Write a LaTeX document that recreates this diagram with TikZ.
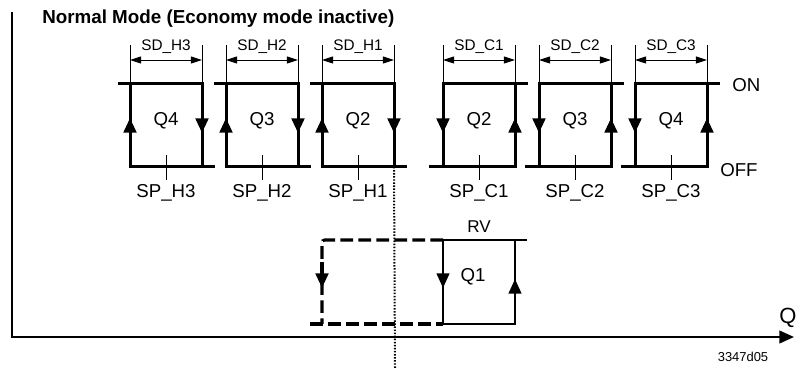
\documentclass[tikz,border=0pt]{standalone}
\usepackage{fontspec}
\setmainfont{Liberation Sans}
\usetikzlibrary{arrows.meta,calc}

\begin{document}
\begin{tikzpicture}[x=.75pt,y=-.75pt,
    loopline/.style={line width=2.25pt},
    rvline/.style={line width=1.7pt},
    dimline/.style={line width=.7pt},
    dimarrow/.style={line width=.7pt,
      {Triangle[length=8.3pt,width=5.2pt]}-{Triangle[length=8.3pt,width=5.2pt]}},
    flowtip/.style={-{Triangle[length=11pt,width=9.5pt]}},
    lbl/.style={font=\fontsize{14}{16}\selectfont,inner sep=0pt,anchor=base},
    small/.style={font=\fontsize{11.5}{13}\selectfont,inner sep=0pt,anchor=base}]
  \useasboundingbox (0,0) rectangle (800,370);

  % Axes.
  \coordinate (ytop) at (12,12);
  \coordinate (xend) at (794,337);
  \draw[line width=1.6pt,-{Triangle[length=11pt,width=9.5pt]}] (ytop) |- (xend);
  \node[font=\fontsize{16.5}{18}\selectfont,inner sep=0pt,anchor=base]
    (qaxis) at (788,324) {Q};
  \node[font=\fontsize{9.7}{11}\selectfont,inner sep=0pt,anchor=base]
    (ref) at (743,362) {3347d05};
  \node[font=\bfseries\fontsize{14.1}{16}\selectfont,inner sep=0pt,
    anchor=base west] (title) at (42,24) {Normal Mode (Economy mode inactive)};

  % Heating stages.
  \foreach \L/\q/\n in {130/4/3,226/3/2,322/2/1}{
    \coordinate (h\n tl) at (\L,84);
    \coordinate (h\n tr) at (\L+72,84);
    \coordinate (h\n bl) at (\L,167);
    \coordinate (h\n br) at (\L+72,167);
    \draw[loopline] ($(h\n tl)+(-12,0)$) -- (h\n tr) -- (h\n br);
    \draw[loopline] (h\n tl) -- (h\n bl) -- ($(h\n br)+(13,0)$);
    \draw[loopline,flowtip] (\L,145) -- (\L,118);
    \draw[loopline,flowtip] (\L+72,106) -- (\L+72,133);
    \draw[dimline] (\L,45) -- (h\n tl) (\L+72,45) -- (h\n tr);
    \draw[dimarrow] (\L,60) -- (\L+72,60);
    \draw[dimline] (\L+36,155) -- (\L+36,180);
    \node[lbl] (hq\n) at (\L+36,126) {Q\q};
    \node[lbl] (hsp\n) at (\L+36,198) {SP\_H\n};
    \node[small] (hsd\n) at (\L+36,51) {SD\_H\n};
  }

  % Cooling stages.
  \foreach \L/\q/\n in {443/2/1,539/3/2,635/4/3}{
    \coordinate (c\n tl) at (\L,84);
    \coordinate (c\n tr) at (\L+72,84);
    \coordinate (c\n bl) at (\L,167);
    \coordinate (c\n br) at (\L+72,167);
    \draw[loopline] (c\n bl) -- (c\n tl) -- ($(c\n tr)+(13,0)$);
    \draw[loopline] ($(c\n bl)+(-14,0)$) -- (c\n br) -- (c\n tr);
    \draw[loopline,flowtip] (\L,106) -- (\L,133);
    \draw[loopline,flowtip] (\L+72,145) -- (\L+72,118);
    \draw[dimline] (\L,45) -- (c\n tl) (\L+72,45) -- (c\n tr);
    \draw[dimarrow] (\L,60) -- (\L+72,60);
    \draw[dimline] (\L+36,155) -- (\L+36,180);
    \node[lbl] (cq\n) at (\L+36,126) {Q\q};
    \node[lbl] (csp\n) at (\L+36,198) {SP\_C\n};
    \node[small] (csd\n) at (\L+36,51) {SD\_C\n};
  }
  \node[lbl,anchor=base west] (on) at (732,92) {ON};
  \node[lbl,anchor=base west] (off) at (720,177) {OFF};

  % Reversing valve stage.
  \coordinate (rtl) at (443,240);
  \coordinate (rtr) at (515,240);
  \coordinate (rbl) at (443,324);
  \coordinate (rbr) at (515,324);
  \draw[line width=2.3pt,dash pattern=on 9.5pt off 4pt,rounded corners=2pt]
    (rtl) -| (322,324);
  \draw[line width=2.3pt,dash pattern=on 9.5pt off 4pt] (310,324) -- (rbl);
  \draw[line width=2.3pt,flowtip] (322,262) -- (322,288);
  \draw[rvline] (rtl) -- (527,240);
  \draw[rvline] (rtl) -- (rbl) -- (rbr) -- (rtr);
  \draw[rvline,flowtip] (rtl) -- (443,288);
  \draw[rvline,flowtip] (rbr) -- (515,279);
  \node[lbl] (q1) at (473,282) {Q1};
  \node[font=\fontsize{12.8}{14}\selectfont,inner sep=0pt,anchor=base]
    (rv) at (479,233) {RV};

  % Switch-over marker.
  \draw[line width=1.5pt,dash pattern=on 1.1pt off 1.2pt] (h1br) -- (395,368);
\end{tikzpicture}
\end{document}
